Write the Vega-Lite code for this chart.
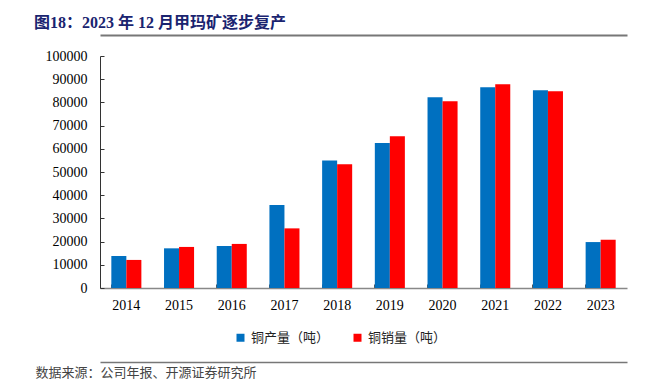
{
  "$schema": "https://vega.github.io/schema/vega-lite/v6.json",
  "autosize": {"type": "none"},
  "width": 527,
  "height": 232,
  "padding": {"left": 100, "top": 56, "right": 37, "bottom": 92},
  "background": "white",
  "title": {
    "text": "图18：2023 年 12 月甲玛矿逐步复产",
    "anchor": "start",
    "frame": "group",
    "dx": -66,
    "offset": 4,
    "font": "Liberation Serif, Noto Sans CJK SC",
    "fontSize": 16,
    "fontWeight": "bold",
    "color": "#1a2470"
  },
  "data": {
    "values": [
      {"year": "2014", "type": "铜产量（吨）", "value": 13800},
      {"year": "2014", "type": "铜销量（吨）", "value": 12100},
      {"year": "2015", "type": "铜产量（吨）", "value": 17100},
      {"year": "2015", "type": "铜销量（吨）", "value": 17700},
      {"year": "2016", "type": "铜产量（吨）", "value": 18100},
      {"year": "2016", "type": "铜销量（吨）", "value": 19000},
      {"year": "2017", "type": "铜产量（吨）", "value": 35800},
      {"year": "2017", "type": "铜销量（吨）", "value": 25700},
      {"year": "2018", "type": "铜产量（吨）", "value": 55000},
      {"year": "2018", "type": "铜销量（吨）", "value": 53300},
      {"year": "2019", "type": "铜产量（吨）", "value": 62500},
      {"year": "2019", "type": "铜销量（吨）", "value": 65400},
      {"year": "2020", "type": "铜产量（吨）", "value": 82200},
      {"year": "2020", "type": "铜销量（吨）", "value": 80500},
      {"year": "2021", "type": "铜产量（吨）", "value": 86500},
      {"year": "2021", "type": "铜销量（吨）", "value": 87800},
      {"year": "2022", "type": "铜产量（吨）", "value": 85200},
      {"year": "2022", "type": "铜销量（吨）", "value": 84800},
      {"year": "2023", "type": "铜产量（吨）", "value": 19800},
      {"year": "2023", "type": "铜销量（吨）", "value": 20800}
    ]
  },
  "layer": [
    {
      "mark": {"type": "bar"},
      "encoding": {
        "x": {
          "field": "year", "type": "ordinal",
          "scale": {"paddingInner": 0.43, "paddingOuter": 0.215},
          "axis": {
            "title": null,
            "labelAngle": 0,
            "bandPosition": 0,
            "tickSize": -4,
            "labelPadding": 14,
            "domainColor": "#888888",
            "domainWidth": 1.5,
            "tickColor": "#555555",
            "labelFont": "Liberation Serif",
            "labelFontSize": 14,
            "labelColor": "#000000"
          }
        },
        "xOffset": {"field": "type", "type": "nominal", "sort": ["铜产量（吨）", "铜销量（吨）"]},
        "y": {
          "field": "value", "type": "quantitative",
          "scale": {"domain": [0, 100000], "nice": false},
          "axis": {
            "title": null,
            "values": [0, 10000, 20000, 30000, 40000, 50000, 60000, 70000, 80000, 90000, 100000],
            "format": "d",
            "grid": false,
            "tickSize": -4,
            "labelPadding": 17,
            "domainColor": "#333333",
            "tickColor": "#333333",
            "labelFont": "Liberation Serif",
            "labelFontSize": 14,
            "labelColor": "#000000"
          }
        },
        "color": {
          "field": "type", "type": "nominal",
          "scale": {"domain": ["铜产量（吨）", "铜销量（吨）"], "range": ["#0070C0", "#FF0000"]},
          "legend": {
            "title": null,
            "orient": "none",
            "direction": "horizontal",
            "legendX": 134,
            "legendY": 275,
            "symbolType": "square",
            "symbolSize": 64,
            "symbolStrokeWidth": 0,
            "columnPadding": 21,
            "labelFont": "Noto Sans CJK SC",
            "labelFontSize": 13,
            "labelColor": "#222222"
          }
        }
      }
    },
    {
      "mark": {"type": "rule", "opacity": 0},
      "encoding": {
        "x": {
          "field": "year", "type": "ordinal",
          "axis": {
            "orient": "top",
            "offset": 21,
            "title": null,
            "labels": false,
            "ticks": false,
            "domainColor": "#777777",
            "domainWidth": 2
          }
        }
      }
    },
    {
      "mark": {"type": "rule", "opacity": 0},
      "encoding": {
        "x": {
          "field": "year", "type": "ordinal",
          "axis": {
            "orient": "bottom",
            "offset": 74,
            "labels": false,
            "ticks": false,
            "domainColor": "#777777",
            "domainWidth": 1.5,
            "title": "数据来源：公司年报、开源证券研究所",
            "titleAnchor": "start",
            "titleAlign": "left",
            "titleX": -65,
            "titleY": 10,
            "titleBaseline": "middle",
            "titleFont": "Noto Sans CJK SC",
            "titleFontSize": 13,
            "titleFontWeight": "normal",
            "titleColor": "#444444"
          }
        }
      }
    }
  ],
  "resolve": {"axis": {"x": "independent"}},
  "config": {"view": {"stroke": null}}
}
